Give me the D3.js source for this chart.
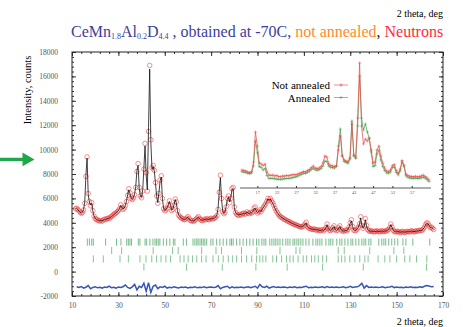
<!DOCTYPE html>
<html>
<head>
<meta charset="utf-8">
<script src="https://cdn.jsdelivr.net/npm/d3@7"></script>
<style>
  body { margin: 0; background: #fff; }
  svg { display: block; font-family: "Liberation Serif", "Times New Roman", serif; }
</style>
</head>
<body>
<svg id="chart" width="464" height="327"></svg>
<script>
// ---- data ----
// main neutron pattern, 2theta grid 11.5 .. 166 deg, step 0.5
const tthStart = 11.5, tthStep = 0.5;
const observed = [
  5150,5200,5100,4980,4870,4780,4850,5050,5600,7800,
  9400,6400,5750,5400,5650,5000,4550,4350,4300,4220,
  4180,4150,4200,4130,4240,4300,4260,4330,4380,4350,
  4450,4520,4600,4680,4750,4820,4900,5000,5150,5480,
  5250,5100,5200,5400,5750,6250,6800,6450,6000,5900,
  6050,6300,6900,8200,8850,6900,6200,6050,6600,8400,
  10500,8100,6600,11500,16900,10800,8500,8700,8300,7300,
  6200,5600,6400,7500,7850,6000,5150,4980,5050,5200,
  5450,5800,5450,5000,5100,5450,5950,5700,5000,4620,
  4500,4420,4350,4300,4250,4300,4380,4500,4350,4200,
  4150,4180,4120,4200,4300,4400,4500,4350,4250,4180,
  4200,4300,4250,4330,4300,4250,4320,4380,4300,4350,
  4400,4450,4600,5100,6500,7900,6000,4900,4750,4850,
  5300,6000,6200,5650,6000,6800,6900,5300,4850,4700,
  4650,4600,4700,4650,4750,4800,4700,4750,4900,4800,
  4750,4850,4800,4900,5200,5300,4950,4800,4900,5050,
  4900,5100,5250,5400,5550,5750,6000,5850,6000,5800,
  5650,5450,5200,5000,4850,4700,4550,4500,4420,4380,
  4300,4250,4200,4150,4100,4050,4000,3950,3900,3870,
  3820,3800,3750,3700,3680,3650,3700,3750,3900,4050,
  3700,3580,3550,3500,3480,3450,3500,3420,3400,3450,
  3380,3350,3400,3450,3350,3450,3600,3900,3550,3400,
  3350,3450,3600,3750,3450,3350,3400,3600,3750,3450,
  3350,3300,3350,3400,3350,3450,3650,4000,4250,3700,
  3400,3350,3400,3500,3650,3900,4500,3800,3550,3700,
  4350,3800,3450,3350,3300,3350,3300,3250,3300,3280,
  3350,3300,3250,3300,3350,3300,3280,3350,3300,3400,
  3450,3600,3900,3650,3400,3300,3250,3280,3300,3250,
  3200,3250,3300,3250,3200,3250,3300,3280,3250,3300,
  3350,3300,3250,3300,3350,3300,3350,3400,3350,3400,
  3500,3650,3850,4000,3950,3750,3600,3650,3550,3450
];
const calculated = [
  5180,5180,5080,4960,4860,4800,4870,5080,5700,7900,
  9300,6300,5700,5450,5600,4950,4550,4370,4290,4230,
  4190,4170,4180,4170,4230,4270,4290,4320,4350,4380,
  4430,4510,4590,4670,4750,4830,4910,5010,5180,5420,
  5280,5130,5210,5420,5780,6300,6700,6400,6000,5920,
  6080,6350,7000,8300,8700,6800,6150,6100,6700,8500,
  10300,7900,6700,11800,16600,10600,8400,8600,8250,7250,
  6150,5650,6450,7450,7750,5950,5200,5000,5080,5230,
  5470,5750,5430,5030,5130,5480,5900,5650,4980,4640,
  4500,4410,4340,4290,4270,4310,4390,4450,4330,4210,
  4170,4160,4150,4200,4300,4390,4450,4330,4240,4200,
  4220,4270,4280,4300,4290,4280,4310,4340,4330,4360,
  4410,4470,4650,5200,6600,7700,5900,4950,4780,4880,
  5350,5950,6100,5700,6050,6750,6800,5250,4850,4720,
  4670,4650,4680,4690,4740,4770,4730,4780,4860,4790,
  4770,4820,4830,4920,5150,5200,4950,4840,4920,5000,
  4930,5100,5250,5400,5550,5750,5950,5850,5950,5780,
  5630,5430,5200,5000,4850,4700,4560,4490,4430,4370,
  4310,4250,4200,4150,4100,4050,4000,3950,3910,3860,
  3820,3790,3750,3710,3680,3670,3700,3770,3900,3980,
  3700,3590,3540,3500,3480,3470,3470,3440,3420,3430,
  3390,3370,3390,3420,3380,3440,3600,3850,3550,3420,
  3370,3440,3580,3700,3460,3370,3400,3580,3700,3450,
  3360,3320,3340,3370,3370,3440,3650,3980,4150,3680,
  3420,3370,3410,3500,3650,3900,4400,3800,3570,3700,
  4250,3780,3450,3350,3310,3320,3300,3280,3290,3290,
  3320,3300,3280,3300,3320,3310,3300,3330,3330,3380,
  3450,3600,3850,3630,3420,3310,3270,3270,3280,3260,
  3230,3250,3270,3250,3230,3250,3270,3270,3270,3290,
  3320,3300,3280,3300,3320,3320,3340,3370,3370,3400,
  3490,3640,3820,3950,3920,3760,3630,3620,3550,3460
];
// difference curve (shifted), 2theta 12 .. 166, step 1
const diffStart = 12, diffStep = 1;
const difference = [
  -1250,-1300,-1220,-1350,-1280,-1150,-1400,-1300,-1250,-1330,
  -1280,-1350,-1260,-1300,-1200,-1320,-1280,-1350,-1260,-1300,
  -1240,-1100,-1300,-1380,-1250,-1050,-1500,-1200,-1300,-950,
  -1600,-900,-1700,-1200,-1100,-1400,-1250,-1300,-1200,-1350,
  -1280,-1320,-1250,-1300,-1350,-1270,-1310,-1260,-1340,-1290,
  -1300,-1250,-1330,-1280,-1310,-1240,-1320,-1290,-1260,-1310,
  -1280,-1150,-1400,-1300,-1250,-1200,-1350,-1250,-1320,-1280,
  -1300,-1260,-1330,-1290,-1250,-1320,-1270,-1200,-1350,-1050,
  -1250,-1300,-1200,-1350,-1280,-1220,-1310,-1270,-1300,-1260,
  -1290,-1330,-1270,-1300,-1250,-1320,-1280,-1300,-1250,-1200,
  -1320,-1280,-1300,-1260,-1310,-1280,-1250,-1320,-1230,-1300,
  -1270,-1310,-1260,-1300,-1280,-1250,-1320,-1290,-1200,-1300,
  -1270,-1250,-1150,-950,-1350,-1150,-1300,-1270,-1310,-1260,
  -1300,-1280,-1250,-1320,-1290,-1260,-1200,-1310,-1270,-1300,
  -1280,-1320,-1260,-1300,-1250,-1310,-1280,-1300,-1240,-1290,
  -1200,-1150,-1180,-1250,-1220
];
// Bragg reflection positions (2theta) for the four phases
const phase1 = [16.6,17.5,18.5,19.2,24.5,29.2,31.1,33.6,34.3,35.0,35.7,38.6,39.3,41.5,42.2,43.6,
  44.9,45.8,46.5,47.2,47.9,49.4,50.8,52.2,53.7,54.4,58.0,59.4,62.2,63.0,63.8,64.4,65.2,65.9,66.6,
  67.3,68.1,69.9,70.8,72.4,73.8,75.2,76.7,78.1,78.8,79.5,81.0,82.4,83.8,85.3,86.7,88.1,89.6,90.6,
  91.9,92.8,93.6,95.3,96.2,97.1,97.9,98.8,99.7,100.9,102.2,103.1,104.0,105.3,106.1,107.0,107.8,
  108.7,109.6,110.9,112.2,113.9,115.2,116.0,116.9,117.8,119.5,120.8,121.6,122.5,124.2,125.5,
  126.4,127.7,129.0,130.3,131.1,132.4,133.7,135.0,135.9,136.7,138.0,138.9,142.3,143.6,144.5,
  145.3,146.6,147.9,149.2,150.5,152.7,154.0,157.0,164.3];
const phase2 = [27.1,31.4,45.0,53.4,55.8,65.9,72.1,74.5,83.1,89.7,99.7,106.6,108.3,124.8,127.4,
  138.4,148.8,153.1];
const phase3 = [19.2,23.5,30.7,34.3,39.3,41.9,44.4,46.5,48.4,50.5,52.5,56.6,58.3,60.1,62.0,63.8,
  65.9,67.8,70.8,73.1,75.2,77.4,79.3,81.0,83.1,85.3,87.5,89.6,91.0,92.3,93.6,96.6,98.2,100.4,
  102.5,104.0,105.4,107.5,109.7,111.2,113.3,114.7,116.2,118.1,119.8,124.8,126.3,127.7,129.8,
  132.0,134.1,136.3,137.7,142.0,144.9,147.1,150.0,153.5,155.7,158.6,163.0];
const phase4 = [41.0,59.4,74.8,89.3,102.8,118.1,135.6,162.9];
const phases = [phase1, phase2, phase3, phase4];

// inset: not annealed vs annealed, 2theta 13 .. 61.5, step 0.5
const insetStart = 13, insetStep = 0.5;
const notAnnealed = [
  180,175,170,160,155,165,260,560,420,250,
  240,225,240,160,130,125,130,120,125,115,
  112,120,118,125,122,128,130,135,132,140,
  148,155,165,160,175,185,205,220,200,195,
  200,215,250,320,310,240,225,220,215,225,
  380,520,320,280,270,265,300,640,330,310,
  700,1250,620,440,490,470,500,380,250,260,
  380,420,320,250,200,170,165,180,225,235,
  175,148,190,275,230,140,125,118,115,112,
  118,110,115,120,128,115,100,82
];
const annealed = [
  163,160,155,148,143,150,220,470,350,215,
  205,180,195,125,97,95,97,92,90,88,
  85,90,92,95,96,98,102,108,112,120,
  130,138,148,145,158,168,185,197,182,178,
  182,195,220,270,265,220,208,203,200,215,
  420,590,320,265,255,248,290,670,320,295,
  620,1120,700,580,640,560,495,360,215,225,
  340,375,280,215,175,152,148,160,205,210,
  155,130,170,260,215,122,108,100,98,96,
  100,95,98,102,108,98,82,65
];

const xTicks = [10, 30, 50, 70, 90, 110, 130, 150, 170];
const yTicks = [-2000, 0, 2000, 4000, 6000, 8000, 10000, 12000, 14000, 16000, 18000];
const insetTicks = [17, 22, 27, 32, 37, 42, 47, 52, 57];
const seriesNames = ['Not annealed', 'Annealed'];

// ---- layout ----
const plot = { left: 72, right: 443, top: 52, bottom: 296 };
const rowLevels = [2420, 1720, 1040, 370];
const rowHalf = 290;

const svg = d3.select('#chart');

const x = d3.scaleLinear().domain([10, 170]).range([plot.left, plot.right]);
const y = d3.scaleLinear().domain([-2000, 18000]).range([plot.bottom, plot.top]);

// title
const title = svg.append('text')
  .attr('x', 71).attr('y', 37)
  .attr('font-size', 16)
  .attr('fill', '#3d3d9c');
title.append('tspan').text('CeMn');
title.append('tspan').attr('font-size', 8).attr('dy', 1.5).text('1.8');
title.append('tspan').attr('dy', -1.5).text('Al');
title.append('tspan').attr('font-size', 8).attr('dy', 1.5).text('0.2');
title.append('tspan').attr('dy', -1.5).text('D');
title.append('tspan').attr('font-size', 8).attr('dy', 1.5).text('4.4');
title.append('tspan').attr('dy', -1.5).text(' , obtained at -70C, ');
title.append('tspan').attr('fill', '#ff8a2c').text('not annealed');
title.append('tspan').attr('fill', '#222').text(', ');
title.append('tspan').attr('fill', '#ff2a3e').text('Neutrons');

svg.append('text')
  .attr('x', 443).attr('y', 17)
  .attr('text-anchor', 'end')
  .attr('font-size', 10)
  .text('2 theta, deg');

svg.append('text')
  .attr('x', 443).attr('y', 325)
  .attr('text-anchor', 'end')
  .attr('font-size', 10)
  .text('2 theta, deg');

svg.append('text')
  .attr('transform', 'translate(31,90) rotate(-90)')
  .attr('text-anchor', 'middle')
  .attr('font-size', 10.5)
  .text('Intensity, counts');

// green arrow on the left
svg.append('path')
  .attr('d', 'M0,157.8H23V161H0Z M22.5,152.5L34.5,159.4L22.5,166.2Z')
  .attr('fill', '#1fa84b');

// ---- axes with inward ticks ----
function styleAxis(g) {
  g.attr('font-family', '"Liberation Serif", serif').attr('font-size', 7.5);
  g.select('.domain').remove();
  g.selectAll('line').attr('stroke', '#333');
  g.selectAll('text').attr('fill', '#555');
}

const xMinor = d3.range(10, 171, 4);
const yMinor = d3.range(-2000, 18001, 400);

svg.append('g').attr('transform', `translate(0,${plot.bottom})`)
  .call(d3.axisBottom(x).tickValues(xTicks).tickSize(-4).tickSizeOuter(0).tickPadding(7)
    .tickFormat(d => String(d)))
  .call(styleAxis);
svg.append('g').attr('transform', `translate(0,${plot.bottom})`)
  .call(d3.axisBottom(x).tickValues(xMinor).tickSize(-2).tickSizeOuter(0).tickFormat(''))
  .call(styleAxis);
svg.append('g').attr('transform', `translate(0,${plot.top})`)
  .call(d3.axisTop(x).tickValues(xTicks).tickSize(-4).tickSizeOuter(0).tickFormat(''))
  .call(styleAxis);
svg.append('g').attr('transform', `translate(0,${plot.top})`)
  .call(d3.axisTop(x).tickValues(xMinor).tickSize(-2).tickSizeOuter(0).tickFormat(''))
  .call(styleAxis);

svg.append('g').attr('transform', `translate(${plot.left},0)`)
  .call(d3.axisLeft(y).tickValues(yTicks).tickSize(-4).tickSizeOuter(0).tickPadding(14)
    .tickFormat(d => String(d)))
  .call(styleAxis);
svg.append('g').attr('transform', `translate(${plot.left},0)`)
  .call(d3.axisLeft(y).tickValues(yMinor).tickSize(-2).tickSizeOuter(0).tickFormat(''))
  .call(styleAxis);
svg.append('g').attr('transform', `translate(${plot.right},0)`)
  .call(d3.axisRight(y).tickValues(yTicks).tickSize(-4).tickSizeOuter(0).tickFormat(''))
  .call(styleAxis);
svg.append('g').attr('transform', `translate(${plot.right},0)`)
  .call(d3.axisRight(y).tickValues(yMinor).tickSize(-2).tickSizeOuter(0).tickFormat(''))
  .call(styleAxis);

svg.append('rect')
  .attr('x', plot.left).attr('y', plot.top)
  .attr('width', plot.right - plot.left).attr('height', plot.bottom - plot.top)
  .attr('fill', 'none').attr('stroke', '#222').attr('stroke-width', 1);

// ---- Bragg reflection tick rows ----
phases.forEach((list, i) => {
  svg.append('g').selectAll('line')
    .data(list)
    .enter().append('line')
    .attr('x1', d => x(d)).attr('x2', d => x(d))
    .attr('y1', y(rowLevels[i] + rowHalf)).attr('y2', y(rowLevels[i] - rowHalf))
    .attr('stroke', i === 0 ? '#4aa463' : '#5cb172')
    .attr('stroke-opacity', 0.75)
    .attr('stroke-width', 1);
});

// ---- difference curve ----
const diffPts = difference.map((v, i) => [diffStart + i * diffStep, v]);
svg.append('path')
  .datum(diffPts)
  .attr('fill', 'none')
  .attr('stroke', '#3656b4')
  .attr('stroke-width', 1.5)
  .attr('d', d3.line().x(d => x(d[0])).y(d => y(d[1])));

// ---- observed (circles) and calculated (line) ----
const obsPts = observed.map((v, i) => [tthStart + i * tthStep, v]);
const calcPts = calculated.map((v, i) => [tthStart + i * tthStep, v]);

svg.append('g').selectAll('circle')
  .data(obsPts)
  .enter().append('circle')
  .attr('cx', d => x(d[0]))
  .attr('cy', d => y(d[1]))
  .attr('r', 2.3)
  .attr('fill', 'none')
  .attr('stroke', '#f03a3a')
  .attr('stroke-opacity', 0.75)
  .attr('stroke-width', 0.75);

svg.append('path')
  .datum(calcPts)
  .attr('fill', 'none')
  .attr('stroke', '#111')
  .attr('stroke-width', 0.8)
  .attr('d', d3.line().x(d => x(d[0])).y(d => y(d[1])));

// ---- inset ----
const ix = d3.scaleLinear().domain([12.5, 62]).range([240, 431]);
const iy = d3.scaleLinear().domain([0, 1280]).range([188, 60]);

svg.append('g').attr('transform', 'translate(0,188)')
  .call(d3.axisBottom(ix).tickValues(insetTicks).tickSize(-2).tickSizeOuter(0).tickPadding(3)
    .tickFormat(d => String(d)))
  .call(g => {
    g.attr('font-family', '"Liberation Serif", serif').attr('font-size', 4.5);
    g.select('.domain').remove();
    g.selectAll('line').attr('stroke', '#333');
    g.selectAll('text').attr('fill', '#555');
  });
svg.append('line')
  .attr('x1', ix.range()[0]).attr('x2', ix.range()[1])
  .attr('y1', 188).attr('y2', 188)
  .attr('stroke', '#333').attr('stroke-width', 0.8);

const crossPath = 'M-1.7,0H1.7M0,-1.7V1.7';
const insetSeries = [
  { name: seriesNames[0], values: notAnnealed, color: '#f04848' },
  { name: seriesNames[1], values: annealed, color: '#3fa050' }
];
// annealed drawn first so the red curve sits on top like the reference
insetSeries.slice().reverse().forEach(s => {
  const pts = s.values.map((v, i) => [insetStart + i * insetStep, v]);
  svg.append('path')
    .datum(pts)
    .attr('fill', 'none')
    .attr('stroke', s.color)
    .attr('stroke-opacity', 0.8)
    .attr('stroke-width', 0.9)
    .attr('d', d3.line().x(d => ix(d[0])).y(d => iy(d[1])));
  svg.append('g').selectAll('path')
    .data(pts)
    .enter().append('path')
    .attr('d', crossPath)
    .attr('transform', d => `translate(${ix(d[0])},${iy(d[1])})`)
    .attr('stroke', s.color)
    .attr('stroke-opacity', 0.65)
    .attr('stroke-width', 0.7);
});

// inset legend
insetSeries.forEach((s, i) => {
  const ly = 85 + i * 12.5;
  svg.append('text')
    .attr('x', 330).attr('y', ly + 4)
    .attr('text-anchor', 'end')
    .attr('font-size', 11)
    .text(s.name);
  svg.append('line')
    .attr('x1', 334).attr('x2', 348)
    .attr('y1', ly).attr('y2', ly)
    .attr('stroke', s.color).attr('stroke-opacity', 0.8).attr('stroke-width', 0.8);
  svg.append('path')
    .attr('d', crossPath)
    .attr('transform', `translate(341,${ly})`)
    .attr('stroke', s.color).attr('stroke-opacity', 0.8).attr('stroke-width', 0.7);
});
</script>
</body>
</html>
